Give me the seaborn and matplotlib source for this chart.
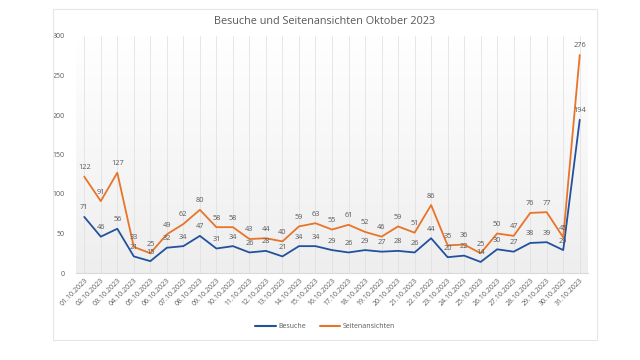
import numpy as np
import pandas as pd
import matplotlib
matplotlib.use("Agg")
import matplotlib.pyplot as plt
from matplotlib.patches import Rectangle
from matplotlib.colors import LinearSegmentedColormap
from matplotlib.lines import Line2D
import seaborn as sns

dates = [f"{d:02d}.10.2023" for d in range(1, 32)]
besuche = [71, 46, 56, 21, 15, 32, 34, 47, 31, 34, 26, 28, 21, 34, 34, 29,
           26, 29, 27, 28, 26, 44, 20, 22, 14, 30, 27, 38, 39, 29, 194]
seiten = [122, 91, 127, 33, 25, 49, 62, 80, 58, 58, 43, 44, 40, 59, 63, 55,
          61, 52, 46, 59, 51, 86, 35, 36, 25, 50, 47, 76, 77, 45, 276]
series_names = ["Besuche", "Seitenansichten"]
y_ticks = [0, 50, 100, 150, 200, 250, 300]
title = "Besuche und Seitenansichten Oktober 2023"

sns.set_theme(style="white")
plt.rcParams['font.family'] = ['Open Sans', 'DejaVu Sans']

df = pd.DataFrame({
    "idx": list(range(len(dates))) * 2,
    "value": besuche + seiten,
    "series": [series_names[0]] * len(dates) + [series_names[1]] * len(dates),
})

colors = {"Besuche": "#22519E", "Seitenansichten": "#E8742A"}
grey = "#595959"

fig = plt.figure(figsize=(6.4, 3.6), dpi=100)
fig.patch.set_facecolor("white")
fig.patches.append(Rectangle((53 / 640, 1 - 340 / 360), (597 - 53) / 640, (340 - 9) / 360,
                             transform=fig.transFigure, fill=False, edgecolor="#e6e6e6",
                             linewidth=0.8))

ax = fig.add_axes([76 / 640, 1 - 273 / 360, (588 - 76) / 640, (273 - 36) / 360])

grad = np.linspace(1.0, 0.0, 256).reshape(-1, 1)
cmap = LinearSegmentedColormap.from_list("g", ["#eeeeee", "#ffffff"])
ax.imshow(grad, extent=[0, 1, 0, 1], transform=ax.transAxes, cmap=cmap,
          aspect="auto", zorder=0, origin="upper")

sns.lineplot(data=df, x="idx", y="value", hue="series", palette=colors,
             linewidth=1.3, ax=ax, legend=False, zorder=3)

ax.set_xlim(-0.5, len(dates) - 0.5)
ax.set_ylim(0, 300)
for i in range(len(dates)):
    ax.axvline(i, color="#dedede", linewidth=0.5, zorder=1)

for vals in (besuche, seiten):
    for i, v in enumerate(vals):
        ax.annotate(str(v), (i, v), xytext=(0, 4), textcoords="offset points",
                    ha="center", va="bottom", fontsize=5.3, color=grey, zorder=4)

ax.set_yticks(y_ticks)
ax.set_yticklabels([str(t) for t in y_ticks], fontsize=5, color=grey)
ax.set_xticks(range(len(dates)))
ax.set_xticklabels(dates, rotation=45, ha="right", rotation_mode="anchor",
                   fontsize=5, color=grey)
ax.tick_params(axis="both", length=0, pad=3)
ax.tick_params(axis="y", pad=8)
ax.set_xlabel("")
ax.set_ylabel("")
for s in ("top", "right", "left"):
    ax.spines[s].set_visible(False)
ax.spines["bottom"].set_color("#d9d9d9")
ax.spines["bottom"].set_linewidth(0.8)
ax.grid(False)

fig.text(325 / 640, 1 - 22 / 360, title, ha="center", va="center", fontsize=7.8, color=grey)

handles = [Line2D([0], [0], color=colors[n], linewidth=1.5) for n in series_names]
fig.legend(handles, series_names, loc="center", bbox_to_anchor=(325 / 640, 1 - 327 / 360),
           ncol=2, frameon=False, fontsize=5, handlelength=3, columnspacing=2,
           handletextpad=0.3, labelcolor=grey)

fig.savefig("out.png", dpi=100)
